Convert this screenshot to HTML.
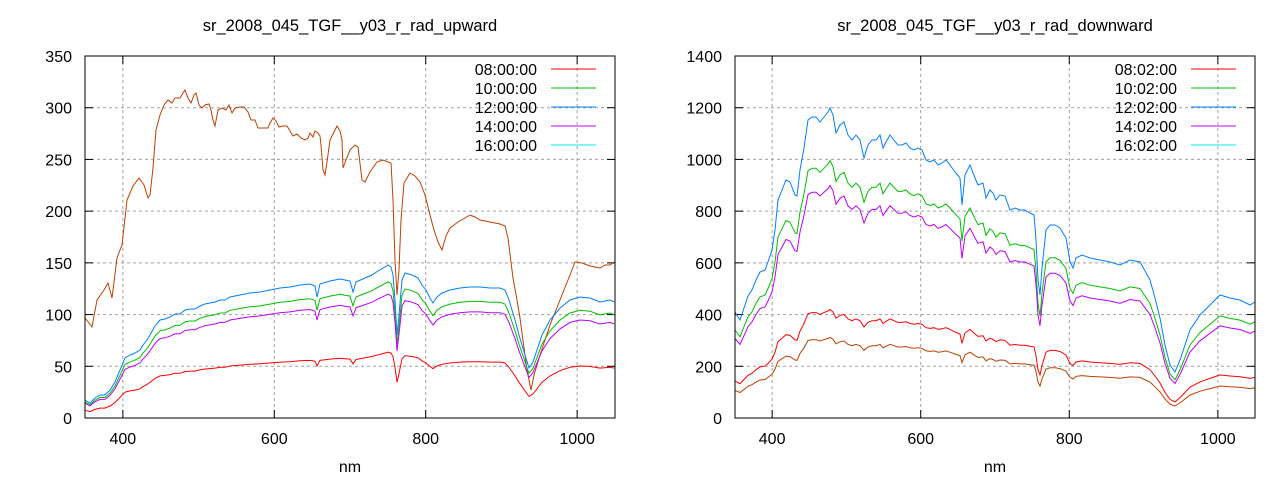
<!DOCTYPE html>
<html><head><meta charset="utf-8"><style>
html,body{margin:0;padding:0;background:#fff;}
svg text{font-family:"Liberation Sans",sans-serif;font-size:16px;fill:#000;}
svg text.t{font-size:16.5px;}
</style></head><body>
<svg id="s" width="1280" height="480" xmlns="http://www.w3.org/2000/svg"></svg>
<script>
const S=document.getElementById('s');let h='';
function add(x){h+=x;}
function panel(L,R,T,B,ymax,ystep,title,times,series){
  const X=v=>L+(v-350)/700*(R-L), Y=v=>B-v/ymax*(B-T);
  for(let v=0;v<=ymax;v+=ystep){const y=Y(v);
    if(v>0&&v<ymax)add(`<line x1="${L}" y1="${y}" x2="${R}" y2="${y}" stroke="#a0a0a0" stroke-dasharray="3,3"/>`);
    add(`<line x1="${L}" y1="${y}" x2="${L+8}" y2="${y}" stroke="#000"/><line x1="${R}" y1="${y}" x2="${R-8}" y2="${y}" stroke="#000"/>`);
    add(`<text x="${L-13}" y="${y+6}" text-anchor="end">${v}</text>`);}
  for(let v=400;v<=1000;v+=200){const x=X(v);
    add(`<line x1="${x}" y1="${T}" x2="${x}" y2="${B}" stroke="#a0a0a0" stroke-dasharray="3,3"/>`);
    add(`<line x1="${x}" y1="${B}" x2="${x}" y2="${B-8}" stroke="#000"/><line x1="${x}" y1="${T}" x2="${x}" y2="${T+8}" stroke="#000"/>`);
    add(`<text x="${x}" y="${B+26}" text-anchor="middle">${v}</text>`);}
  series.forEach(s=>add(`<polyline fill="none" stroke="${s.c}" stroke-width="1" points="${s.p.map(q=>q[0]+','+q[1].toFixed(1)).join(' ')}"/>`));
  add(`<rect x="${L}" y="${T}" width="${R-L}" height="${B-T}" fill="none" stroke="#000"/>`);
  add(`<text class="t" x="${(L+R)/2}" y="31" text-anchor="middle">${title}</text>`);
  add(`<text x="${(L+R)/2}" y="472" text-anchor="middle">nm</text>`);
  const cols=['#ff0000','#00c000','#0080ff','#c000ff','#00eeee'];
  times.forEach((t,i)=>{const y=69+i*19;
    add(`<text x="${R-78}" y="${y+6}" text-anchor="end">${t}</text><line x1="${R-64}" y1="${y}" x2="${R-19}" y2="${y}" stroke="${cols[i]}"/>`);});
}
function sc(p,k,B){return p.map(q=>[q[0],B-(B-q[1])*k]);}
const blueL=[[85,400],[90,403],[95,398],[100,395],[105,395],[110,390],[115,382],[120,370],[125,358],[130,355],[135,353],[140,350],[143,345],[147,340],[150,335],[155,326],[160,320],[165,319],[170,317],[175,314],[180,314],[185,310],[190,309],[195,309],[200,306],[205,304],[210,303],[215,302],[220,300],[225,300],[230,297],[240,295],[250,293],[260,292],[270,290],[280,288],[290,287],[300,285],[310,284],[315,286],[317,297],[320,284],[330,281],[340,279],[345,280],[350,281],[353,292],[356,282],[365,278],[372,275],[378,271],[385,267],[388,265],[391,267],[393,275],[395,300],[397,335],[399,315],[402,280],[405,273],[412,275],[418,278],[422,285],[426,290],[430,298],[433,303],[437,297],[442,293],[450,290],[460,288],[470,287],[480,287],[490,288],[500,288],[505,290],[509,300],[512,310],[515,320],[519,335],[522,345],[525,355],[529,368],[533,362],[537,350],[542,335],[550,320],[560,308],[570,300],[580,297],[590,298],[600,302],[610,300],[614,302]];
const orL=[[85,318],[92,327],[97,300],[104,290],[108,283],[112,298],[117,258],[122,245],[127,200],[133,186],[139,178],[144,185],[148,198],[150,195],[153,168],[156,130],[160,115],[164,105],[168,100],[172,103],[175,98],[180,98],[183,93],[185,90],[188,98],[191,103],[194,95],[196,93],[199,105],[202,108],[205,105],[209,104],[211,110],[213,120],[215,126],[218,110],[222,108],[226,110],[229,105],[232,113],[235,108],[240,107],[244,107],[248,112],[251,120],[255,120],[258,128],[264,128],[268,128],[270,123],[273,118],[276,121],[279,127],[283,126],[287,126],[290,131],[293,136],[297,134],[301,138],[305,140],[308,138],[310,133],[313,137],[315,131],[318,133],[320,136],[321,145],[323,170],[325,175],[327,162],[330,140],[335,130],[337,126],[340,131],[342,140],[343,168],[346,160],[350,150],[355,145],[358,147],[362,180],[365,182],[370,172],[377,162],[383,160],[388,162],[391,163],[393,200],[395,260],[397,295],[399,270],[401,220],[404,183],[410,173],[415,176],[420,182],[425,195],[430,215],[434,230],[438,242],[442,250],[446,236],[450,228],[458,222],[465,218],[470,215],[475,217],[480,220],[490,222],[500,224],[505,226],[508,238],[511,262],[513,278],[517,300],[520,318],[524,348],[527,370],[529,380],[531,390],[534,375],[540,355],[550,325],[560,300],[570,275],[575,262],[582,263],[590,266],[595,267],[600,268],[605,265],[610,265],[614,262]];
panel(85,615,56,418,350,50,'sr_2008_045_TGF__y03_r_rad_upward',['08:00:00','10:00:00','12:00:00','14:00:00','16:00:00'],[
 {c:'#c04000',p:orL},{c:'#ff0000',p:sc(blueL,0.43,418)},{c:'#0080ff',p:blueL},{c:'#00c000',p:sc(blueL,0.89,418)},{c:'#c000ff',p:sc(blueL,0.81,418)}]);
const blueR=[[735,312],[740,320],[745,305],[748,296],[752,290],[756,280],[760,272],[765,270],[768,262],[772,250],[775,230],[778,200],[782,190],[786,180],[790,182],[795,195],[797,196],[800,170],[804,148],[808,120],[812,117],[816,117],[820,122],[824,117],[828,112],[830,108],[833,115],[836,133],[840,125],[844,122],[848,135],[852,140],[856,135],[860,140],[864,158],[868,145],[872,140],[876,140],[880,135],[883,148],[886,142],[890,135],[894,140],[898,145],[902,145],[906,143],[910,148],[914,150],[918,148],[922,150],[926,160],[930,162],[934,160],[938,165],[942,163],[946,160],[950,165],[955,172],[960,178],[962,205],[965,175],[970,165],[975,178],[978,185],[983,183],[986,198],[990,190],[993,193],[996,200],[1000,195],[1005,196],[1010,210],[1015,208],[1020,210],[1025,210],[1030,213],[1034,215],[1036,240],[1038,280],[1040,295],[1042,268],[1046,230],[1050,225],[1055,225],[1060,228],[1066,238],[1070,262],[1073,268],[1076,258],[1082,255],[1090,258],[1100,260],[1110,262],[1120,265],[1130,260],[1140,262],[1150,280],[1155,298],[1160,318],[1165,345],[1170,365],[1175,372],[1180,360],[1190,330],[1200,315],[1210,305],[1220,295],[1230,298],[1240,300],[1250,305],[1255,302]];
panel(735,1255,56,418,1400,200,'sr_2008_045_TGF__y03_r_rad_downward',['08:02:00','10:02:00','12:02:00','14:02:00','16:02:00'],[
 {c:'#c04000',p:sc(blueR,0.26,418)},{c:'#ff0000',p:sc(blueR,0.35,418)},{c:'#0080ff',p:blueR},{c:'#00c000',p:sc(blueR,0.83,418)},{c:'#c000ff',p:sc(blueR,0.75,418)}]);
S.innerHTML=h;
</script>
</body></html>
